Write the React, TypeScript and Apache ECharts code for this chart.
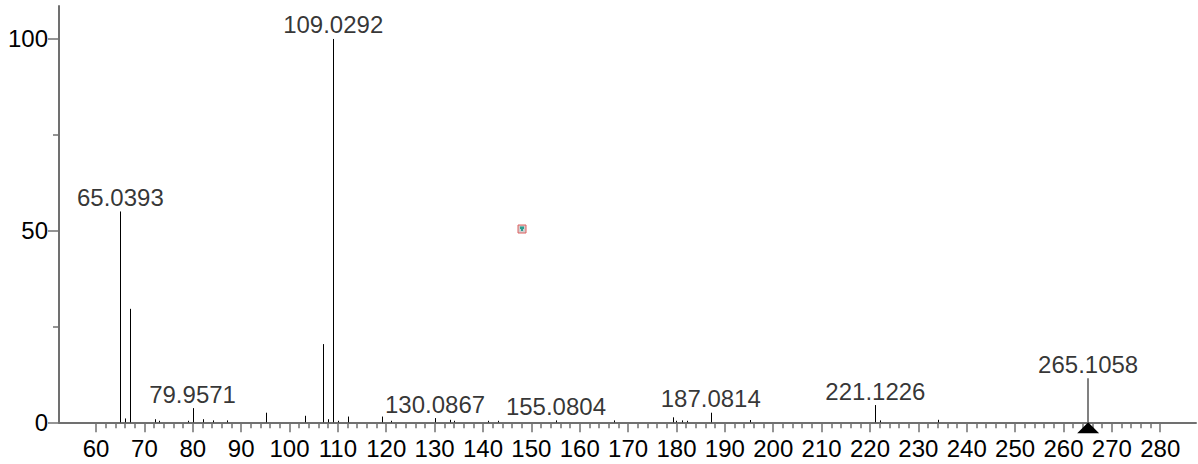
import React, { useEffect, useRef } from "react";
import * as echarts from "echarts";

// m/z peaks (black sticks)
const peakMz = [
  65.0393, 66.0, 67.0, 72.2, 73.0, 79.1, 79.9571, 82.06, 84.1, 87.0, 95.15,
  103.15, 107.0, 108.0, 109.0292, 110.0, 112.0, 119.1, 121.07, 130.0867, 133.2,
  134.0, 141.0, 143.06, 155.0804, 167.1, 179.2, 179.9, 181.1, 182.1, 187.0814,
  195.1, 221.1226, 222.1, 234.05,
];
const peakIntensity = [
  55.0, 1.0, 29.6, 0.8, 0.4, 0.4, 3.7, 0.8, 0.5, 0.5, 2.5,
  1.7, 20.4, 0.8, 100, 0.4, 1.5, 1.5, 0.4, 1.1, 0.65,
  0.4, 0.4, 0.4, 0.5, 0.5, 1.3, 0.4, 0.5, 0.4, 2.5,
  0.6, 4.5, 0.5, 0.65,
];

// precursor peak (grey stick with triangle)
const precursorMz = [265.1058];
const precursorIntensity = [11.5];

// labelled peaks
const labelMz = [65.0393, 79.9571, 109.0292, 130.0867, 155.0804, 187.0814, 221.1226, 265.1058];
const labelIntensity = [55.0, 3.7, 100, 1.1, 0.5, 2.5, 4.5, 11.5];
const labelText = ["65.0393", "79.9571", "109.0292", "130.0867", "155.0804", "187.0814", "221.1226", "265.1058"];

// axis ticks
const xMajorTicks = [60, 70, 80, 90, 100, 110, 120, 130, 140, 150, 160, 170, 180, 190, 200, 210, 220, 230, 240, 250, 260, 270, 280];
const xMinorStep = 2;
const yMajorTicks = [0, 50, 100];
const yMinorTicks = [25, 75];

const X_MIN = 52.35;
const X_MAX = 287.4;
const Y_MIN = 0;
const Y_MAX = 108.6;

const FONT = "Liberation Sans, Arial, Helvetica, sans-serif";
const FONT_SIZE = 24;
const AXIS_COLOR = "#707070";

export default function App() {
  const ref = useRef<HTMLDivElement>(null);

  useEffect(() => {
    document.body.style.margin = "0";
    if (!ref.current) return;
    const chart = echarts.init(ref.current, undefined, { renderer: "svg" });

    const xMinor: number[] = [];
    for (let v = xMajorTicks[0]; v <= xMajorTicks[xMajorTicks.length - 1]; v += xMinorStep) {
      if (v % 10 !== 0) xMinor.push(v);
    }

    const stick = (color: string, width: number) => (params: any, api: any) => {
      const x = api.value(0);
      const y = api.value(1);
      const p0 = api.coord([x, 0]);
      const p1 = api.coord([x, y]);
      const px = Math.round(p0[0]) + (width % 2 === 1 ? 0.5 : 0);
      return {
        type: "line",
        shape: { x1: px, y1: p0[1], x2: px, y2: p1[1] },
        style: { stroke: color, lineWidth: width },
      };
    };

    const baseX = {
      type: "value" as const,
      min: X_MIN,
      max: X_MAX,
      splitLine: { show: false },
    };
    const baseY = {
      type: "value" as const,
      min: Y_MIN,
      max: Y_MAX,
      splitLine: { show: false },
    };

    chart.setOption({
      animation: false,
      grid: { left: 59, right: 2, top: 6, bottom: 41.7, containLabel: false },
      xAxis: [
        {
          ...baseX,
          position: "bottom",
          axisLine: { show: true, onZero: false, lineStyle: { color: AXIS_COLOR, width: 2 } },
          axisTick: { show: true, customValues: xMajorTicks, length: 10, lineStyle: { color: AXIS_COLOR, width: 1.5 } },
          axisLabel: {
            show: true,
            customValues: xMajorTicks,
            margin: 14,
            color: "#000",
            fontSize: FONT_SIZE,
            fontFamily: FONT,
          },
        },
        {
          ...baseX,
          position: "bottom",
          axisLine: { show: false },
          axisTick: { show: true, customValues: xMinor, length: 6, lineStyle: { color: AXIS_COLOR, width: 1.5 } },
          axisLabel: { show: false },
        },
      ],
      yAxis: [
        {
          ...baseY,
          position: "left",
          axisLine: { show: true, onZero: false, lineStyle: { color: AXIS_COLOR, width: 2 } },
          axisTick: { show: true, customValues: yMajorTicks, length: 11, lineStyle: { color: AXIS_COLOR, width: 1.5 } },
          axisLabel: {
            show: true,
            customValues: yMajorTicks,
            margin: 11,
            color: "#000",
            fontSize: FONT_SIZE,
            fontFamily: FONT,
          },
        },
        {
          ...baseY,
          position: "left",
          axisLine: { show: false },
          axisTick: { show: true, customValues: yMinorTicks, length: 6, lineStyle: { color: AXIS_COLOR, width: 1.5 } },
          axisLabel: { show: false },
        },
      ],
      series: [
        {
          type: "custom",
          xAxisIndex: 0,
          yAxisIndex: 0,
          renderItem: stick("#000", 1),
          encode: { x: 0, y: 1 },
          data: peakMz.map((m, i) => [m, peakIntensity[i]]),
          silent: true,
        },
        {
          type: "custom",
          xAxisIndex: 0,
          yAxisIndex: 0,
          renderItem: stick("#808080", 2),
          encode: { x: 0, y: 1 },
          data: precursorMz.map((m, i) => [m, precursorIntensity[i]]),
          silent: true,
        },
        {
          type: "scatter",
          xAxisIndex: 0,
          yAxisIndex: 0,
          symbol: "triangle",
          symbolSize: [22, 11],
          symbolOffset: [0, "50%"],
          itemStyle: { color: "#000", opacity: 1 },
          data: precursorMz.map((m) => [m, 0]),
          silent: true,
          z: 5,
        },
        {
          type: "scatter",
          xAxisIndex: 0,
          yAxisIndex: 0,
          symbolSize: 0,
          data: labelMz.map((m, i) => ({ value: [m, labelIntensity[i]], name: labelText[i] })),
          label: {
            show: true,
            position: "top",
            distance: 2,
            formatter: (p: any) => p.name,
            color: "#000",
            fontSize: FONT_SIZE,
            fontFamily: FONT,
          },
          silent: true,
        },
      ],
      graphic: [
        {
          type: "group",
          x: 518,
          y: 225,
          children: [
            { type: "rect", shape: { x: 0, y: 0, width: 8, height: 8 }, style: { fill: "#d0d0d0", stroke: "#e06060", lineWidth: 1 } },
            { type: "rect", shape: { x: 2, y: 1.5, width: 4, height: 2.5 }, style: { fill: "#2a9d8f" } },
            { type: "rect", shape: { x: 3, y: 4, width: 2, height: 2 }, style: { fill: "#2a9d8f" } },
          ],
        },
      ],
    });

    return () => chart.dispose();
  }, []);

  return <div ref={ref} style={{ width: 1198, height: 464 }} />;
}
